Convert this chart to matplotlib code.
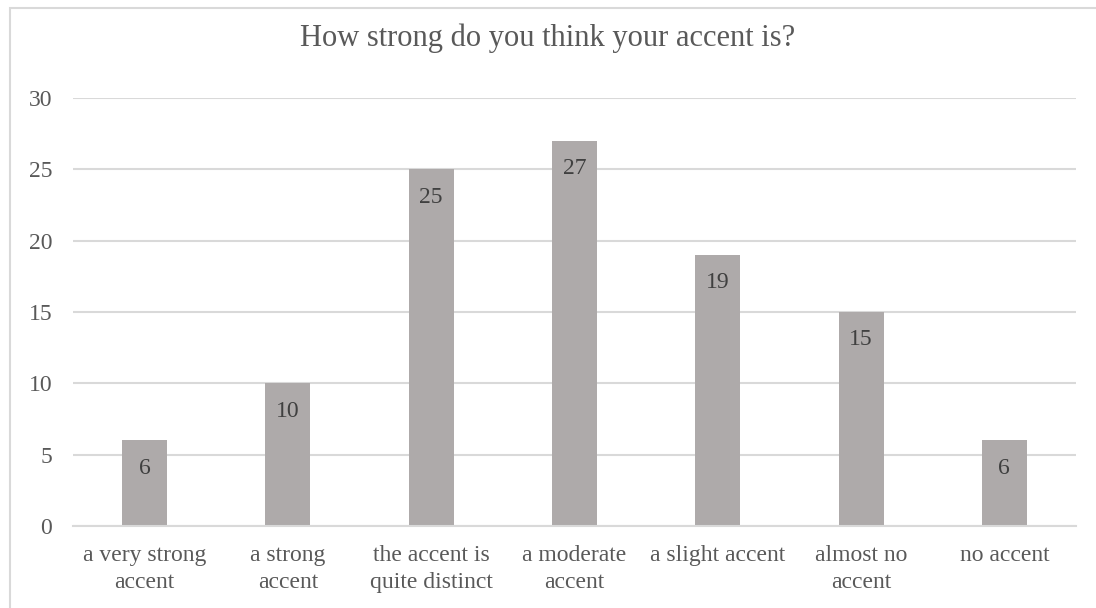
import matplotlib.pyplot as plt
from matplotlib.patches import Rectangle
import numpy as np

# survey answers
categories = ['a very strong\naccent', 'a strong\naccent', 'the accent is\nquite distinct',
              'a moderate\naccent', 'a slight accent', 'almost no\naccent', 'no accent']
counts = [6, 10, 25, 27, 19, 15, 6]
yticks = [0, 5, 10, 15, 20, 25, 30]

plt.rcParams['font.family'] = ['Liberation Serif', 'DejaVu Serif']
text_color = '#595959'

fig = plt.figure(figsize=(10.96, 6.08), dpi=100)
ax = fig.add_axes([73 / 1096, 1 - 526 / 608, (1076 - 73) / 1096, (526 - 98) / 608])

# light frame round the chart area (right and bottom edges fall off the canvas)
fig.patches.append(Rectangle((10 / 1096, -0.05), 1.2, 1.05 - 8 / 608, transform=fig.transFigure,
                             fill=False, edgecolor='#D9D9D9', linewidth=1.5))

x = np.arange(len(categories))
bars = ax.bar(x, counts, width=0.314, color='#AEAAAA', zorder=2)

for rect, v in zip(bars, counts):
    ax.annotate(str(v), (rect.get_x() + rect.get_width() / 2, v), xytext=(0, -20),
                textcoords='offset points', ha='center', va='center',
                fontsize=17, color='#404040')

ax.set_xlim(-0.5, len(categories) - 0.5)
ax.set_ylim(0, 30)
ax.set_yticks(yticks)
ax.set_xticks(x, categories)
ax.yaxis.grid(True, color='#D9D9D9', linewidth=1.5, zorder=0)
ax.set_axisbelow(True)
for side in ['top', 'right', 'left']:
    ax.spines[side].set_visible(False)
ax.spines['bottom'].set_color('#D9D9D9')
ax.spines['bottom'].set_linewidth(1.5)
ax.tick_params(axis='both', length=0, labelsize=17, labelcolor=text_color)
ax.tick_params(axis='y', pad=15)
ax.tick_params(axis='x', pad=14)
for lbl in ax.get_xticklabels():
    lbl.set_linespacing(1.32)

fig.text(548 / 1096, 1 - 38 / 608, 'How strong do you think your accent is?',
         ha='center', va='center', fontsize=22, color=text_color)

fig.savefig('out.png', dpi=100)
